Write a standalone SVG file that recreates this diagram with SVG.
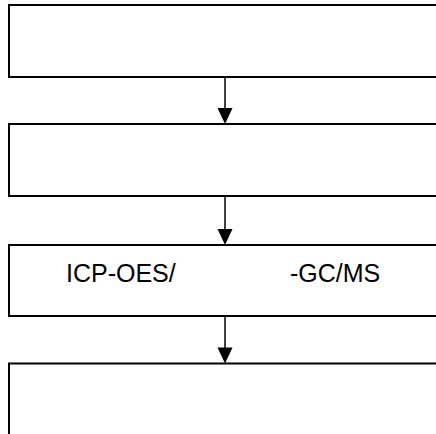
<svg xmlns="http://www.w3.org/2000/svg" width="436" height="434" viewBox="0 0 436 434">
<style>
.box{fill:#fff;stroke:#000;stroke-width:2}
.line{stroke:#000;stroke-width:1.5;fill:none}
.head{fill:#000;stroke:none}
.lbl{font-family:"Liberation Sans",Arial,sans-serif;font-size:25px;fill:#000}
</style>
<rect width="436" height="434" fill="#fff"/>
<g id="node1"><rect class="box" x="9" y="5" width="440" height="72"/></g>
<g id="node2"><rect class="box" x="9" y="124" width="440" height="72"/></g>
<g id="node3"><rect class="box" x="9" y="245" width="440" height="71"/>
<text class="lbl" x="66" y="282">ICP-OES/</text>
<text class="lbl" x="290" y="282">-GC/MS</text></g>
<g id="node4"><rect class="box" x="9" y="363.5" width="440" height="90"/></g>
<g id="connectors">
<line class="line" x1="225" y1="77" x2="225" y2="110"/>
<polygon class="head" points="217.5,108 232.5,108 225,124"/>
<line class="line" x1="225" y1="196" x2="225" y2="231"/>
<polygon class="head" points="217.5,229 232.5,229 225,245"/>
<line class="line" x1="225" y1="316" x2="225" y2="349"/>
<polygon class="head" points="217.5,347.5 232.5,347.5 225,363.5"/>
</g>
</svg>
